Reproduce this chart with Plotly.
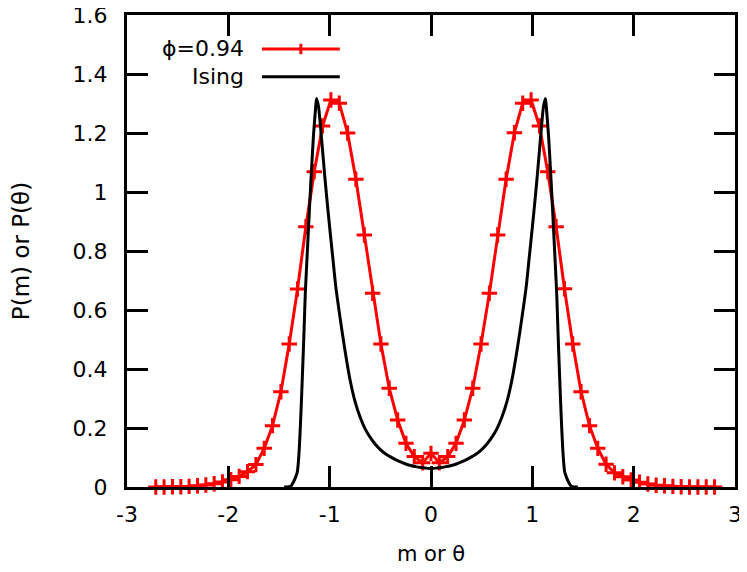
import plotly.graph_objects as go

# phi = 0.94 distribution (red, with + markers)
phi_x = [
    -2.716, -2.634, -2.551, -2.469, -2.387, -2.304, -2.222, -2.140, -2.058, -1.975,
    -1.893, -1.811, -1.728, -1.646, -1.564, -1.481, -1.399, -1.317, -1.235, -1.152,
    -1.070, -0.988, -0.905, -0.823, -0.741, -0.658, -0.576, -0.494, -0.412, -0.329,
    -0.247, -0.165, -0.082, 0.000, 0.082, 0.165, 0.247, 0.329, 0.412, 0.494,
    0.576, 0.658, 0.741, 0.823, 0.905, 0.988, 1.070, 1.152, 1.235, 1.317,
    1.399, 1.481, 1.564, 1.646, 1.728, 1.811, 1.893, 1.975, 2.058, 2.140,
    2.222, 2.304, 2.387, 2.469, 2.551, 2.634, 2.716, 2.798,
]
phi_y = [
    0.000, 0.000, 0.001, 0.001, 0.002, 0.004, 0.007, 0.011, 0.017, 0.025,
    0.036, 0.052, 0.076, 0.131, 0.208, 0.323, 0.485, 0.671, 0.882, 1.069,
    1.224, 1.312, 1.301, 1.200, 1.043, 0.854, 0.657, 0.485, 0.335, 0.227,
    0.148, 0.103, 0.082, 0.114, 0.082, 0.103, 0.148, 0.227, 0.335, 0.485,
    0.657, 0.854, 1.043, 1.201, 1.301, 1.312, 1.224, 1.069, 0.882, 0.672,
    0.485, 0.323, 0.208, 0.131, 0.077, 0.048, 0.035, 0.024, 0.016, 0.010,
    0.006, 0.004, 0.002, 0.001, 0.000, 0.000, 0.000, 0.000,
]

# Ising distribution (black line)
ising_x = [
    -1.45, -1.40, -1.38, -1.36, -1.34, -1.32, -1.31, -1.30, -1.29, -1.28,
    -1.27, -1.26, -1.25, -1.24, -1.22, -1.20, -1.18, -1.16, -1.14, -1.13,
    -1.11, -1.09, -1.07, -1.05, -1.03, -1.00, -0.97, -0.94, -0.90, -0.85,
    -0.80, -0.75, -0.70, -0.65, -0.60, -0.55, -0.50, -0.45, -0.40, -0.35,
    -0.30, -0.25, -0.20, -0.15, -0.10, -0.05, 0.00,
    0.05, 0.10, 0.15, 0.20, 0.25, 0.30, 0.35, 0.40, 0.45, 0.50,
    0.55, 0.60, 0.65, 0.70, 0.75, 0.80, 0.85, 0.90, 0.94, 0.97,
    1.00, 1.03, 1.05, 1.07, 1.09, 1.11, 1.13, 1.14, 1.16, 1.18,
    1.20, 1.22, 1.24, 1.25, 1.26, 1.27, 1.28, 1.29, 1.30, 1.31,
    1.32, 1.34, 1.36, 1.38, 1.40, 1.45,
]
ising_y = [
    0.000, 0.001, 0.004, 0.015, 0.030, 0.050, 0.080, 0.130, 0.200, 0.280,
    0.370, 0.460, 0.560, 0.660, 0.800, 0.940, 1.070, 1.190, 1.280, 1.317,
    1.290, 1.220, 1.140, 1.060, 0.985, 0.880, 0.780, 0.680, 0.580, 0.465,
    0.365, 0.290, 0.237, 0.197, 0.168, 0.145, 0.127, 0.113, 0.102, 0.093,
    0.085, 0.078, 0.073, 0.069, 0.066, 0.064, 0.063,
    0.064, 0.066, 0.069, 0.073, 0.078, 0.085, 0.093, 0.102, 0.113, 0.127,
    0.145, 0.168, 0.197, 0.237, 0.290, 0.365, 0.465, 0.580, 0.680, 0.780,
    0.880, 0.985, 1.060, 1.140, 1.220, 1.290, 1.317, 1.280, 1.190, 1.070,
    0.940, 0.800, 0.660, 0.560, 0.460, 0.370, 0.280, 0.200, 0.130, 0.080,
    0.050, 0.030, 0.015, 0.004, 0.001, 0.000,
]

x_ticks = [-3, -2, -1, 0, 1, 2, 3]
x_tick_text = ["-3", "-2", "-1", "0", "1", "2", "3"]
y_ticks = [0, 0.2, 0.4, 0.6, 0.8, 1.0, 1.2, 1.4, 1.6]
y_tick_text = ["0", "0.2", "0.4", "0.6", "0.8", "1", "1.2", "1.4", "1.6"]

FONT = "DejaVu Sans"
RED = "#ff0000"

fig = go.Figure()
fig.add_trace(
    go.Scatter(
        x=phi_x,
        y=phi_y,
        mode="lines+markers",
        line=dict(color=RED, width=3),
        marker=dict(symbol="cross-thin", size=11, line=dict(color=RED, width=3)),
        cliponaxis=False,
        showlegend=False,
    )
)
fig.add_trace(
    go.Scatter(
        x=ising_x,
        y=ising_y,
        mode="lines",
        line=dict(color="black", width=3, shape="spline", smoothing=0.6),
        showlegend=False,
    )
)

axis_style = dict(
    showline=True,
    linecolor="black",
    linewidth=3,
    mirror="ticks",
    ticks="inside",
    ticklen=21,
    tickwidth=3,
    tickcolor="black",
    showgrid=False,
    zeroline=False,
    automargin=False,
    ticklabeloverflow="allow",
    tickfont=dict(family=FONT, size=22, color="black"),
)

fig.update_xaxes(
    range=[-3, 3],
    tickvals=x_ticks,
    ticktext=x_tick_text,
    ticklabelstandoff=6,
    title=dict(text="m or θ", font=dict(family=FONT, size=21, color="black"), standoff=20),
    **axis_style,
)
fig.update_yaxes(
    range=[0, 1.6],
    tickvals=y_ticks,
    ticktext=y_tick_text,
    ticklabelstandoff=12,
    title=dict(text="P(m) or P(θ)", font=dict(family=FONT, size=23, color="black"), standoff=50),
    **axis_style,
)

# gnuplot-style key: text on the left, line sample on the right
key_font = dict(family=FONT, size=22, color="black")
fig.add_annotation(x=0.196, y=0.930, xref="paper", yref="paper", text="ϕ=0.94",
                   showarrow=False, xanchor="right", yanchor="middle", font=key_font)
fig.add_annotation(x=0.196, y=0.869, xref="paper", yref="paper", text="Ising",
                   showarrow=False, xanchor="right", yanchor="middle", font=key_font)
fig.add_shape(type="line", xref="paper", yref="paper", x0=0.222, x1=0.350, y0=0.928, y1=0.928,
              line=dict(color=RED, width=3))
fig.add_shape(type="line", xref="paper", yref="paper", x0=0.286, x1=0.286, y0=0.917, y1=0.939,
              line=dict(color=RED, width=3))
fig.add_shape(type="line", xref="paper", yref="paper", x0=0.222, x1=0.350, y0=0.869, y1=0.869,
              line=dict(color="black", width=3))

# the page puts the figure 8px in from the top-left corner
fig.update_layout(
    width=739,
    height=564,
    margin=dict(l=119, r=12, t=7, b=85),
    paper_bgcolor="white",
    plot_bgcolor="white",
    font=dict(family=FONT, color="black"),
)

fig.write_html("out.html")
